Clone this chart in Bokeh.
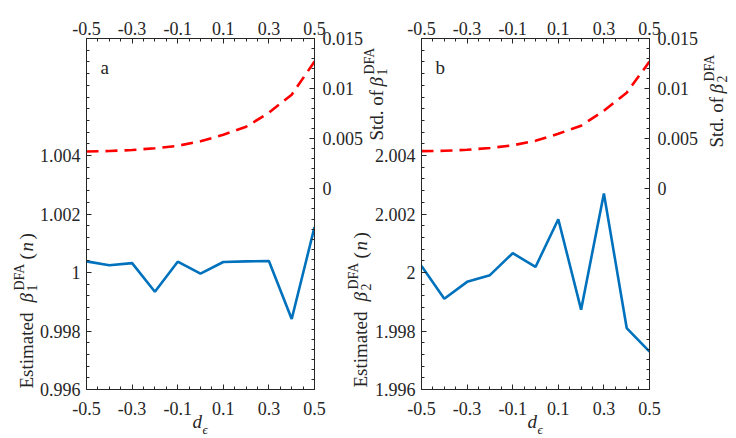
import math
from bokeh.plotting import figure
from bokeh.models import (Range1d, LinearAxis, FixedTicker, CustomJSTickFormatter)
from bokeh.layouts import row, column
from bokeh.core.properties import value
from bokeh.embed import file_html
from bokeh.resources import INLINE

# ---------------- data ----------------
d_eps = [-0.5, -0.4, -0.3, -0.2, -0.1, 0.0, 0.1, 0.2, 0.3, 0.4, 0.5]
beta1 = [1.00038, 1.00025, 1.00032, 0.99934, 1.00037, 0.99996, 1.00036, 1.00038, 1.00039, 0.99841, 1.00155]
beta2 = [2.00022, 1.99910, 1.99968, 1.99991, 2.00066, 2.00019, 2.00182, 1.99873, 2.00270, 1.99810, 1.99730]
std1 = [0.00373, 0.00378, 0.00388, 0.00405, 0.00430, 0.00475, 0.00540, 0.00620, 0.00760, 0.00940, 0.01270]
std2 = [0.00377, 0.00380, 0.00390, 0.00408, 0.00435, 0.00480, 0.00550, 0.00630, 0.00780, 0.00960, 0.01270]

x_ticks = [-0.5, -0.3, -0.1, 0.1, 0.3, 0.5]
std_ticks = [0, 0.005, 0.01, 0.015]
beta1_ticks = [0.996, 0.998, 1.0, 1.002, 1.004]
beta2_ticks = [1.996, 1.998, 2.0, 2.002, 2.004]

FONT = "Liberation Serif"
AX = "#262626"
W, H = 736, 438
FW, FH = 228, 351
FRAME_TOP = 38
FRAME_BOTTOM = FRAME_TOP + FH

fmt_code = """
var s = tick.toFixed(3);
if (s.indexOf('.') >= 0) { s = s.replace(/0+$/, ''); s = s.replace(/\\.$/, ''); }
if (s == '-0') s = '0';
return s;
"""


def minor(lo, hi, step):
    n = int(round((hi - lo) / step))
    return [lo + i * step for i in range(n + 1)]


def style_axis(ax, ticks, minors, standoff):
    ax.ticker = FixedTicker(ticks=ticks, minor_ticks=minors)
    ax.formatter = CustomJSTickFormatter(code=fmt_code)
    ax.major_label_text_font = FONT
    ax.major_label_text_font_size = "18px"
    ax.major_label_text_color = AX
    ax.axis_line_color = AX
    ax.major_tick_line_color = AX
    ax.minor_tick_line_color = AX
    ax.major_tick_in = 5
    ax.major_tick_out = 0
    ax.minor_tick_in = 3
    ax.minor_tick_out = 0
    ax.major_label_standoff = standoff


def make_panel(beta, std, yticks, ylo, yhi, left_border, right_border):
    p = figure(frame_width=FW, frame_height=FH, output_backend="svg", toolbar_location=None,
               x_range=Range1d(-0.5, 0.5), y_range=Range1d(ylo, yhi), title=None,
               min_border_left=left_border, min_border_right=right_border,
               min_border_top=FRAME_TOP, min_border_bottom=H - FRAME_BOTTOM,
               x_axis_location="below", y_axis_location="left")
    p.outline_line_color = None
    p.xgrid.visible = False
    p.ygrid.visible = False
    p.background_fill_color = "white"
    p.border_fill_color = "white"
    p.extra_y_ranges = {"std": Range1d(-0.02, 0.015)}

    xminor = minor(-0.5, 0.5, 0.05)
    style_axis(p.xaxis[0], x_ticks, xminor, 12)
    style_axis(p.yaxis[0], yticks, minor(ylo, yhi, 0.0004), 6)

    top = LinearAxis()
    style_axis(top, x_ticks, xminor, 4)
    p.add_layout(top, "above")

    right = LinearAxis(y_range_name="std")
    style_axis(right, std_ticks, minor(-0.02, 0.015, 0.001), 8)
    p.add_layout(right, "right")

    p.line(d_eps, std, y_range_name="std", color="#FF0000", line_width=2.6, line_dash="12 7")
    p.line(d_eps, beta, color="#0072BD", line_width=2.6)
    return p


pa = make_panel(beta1, std1, beta1_ticks, 0.996, 1.008, 86, 56)
pb = make_panel(beta2, std2, beta2_ticks, 1.996, 2.008, 51, 87)

# transparent overlay that carries the composed axis labels (page pixel coordinates)
ov = figure(width=W, height=H, x_range=Range1d(0, W), y_range=Range1d(0, H),
            output_backend="svg", toolbar_location=None, title=None,
            x_axis_type=None, y_axis_type=None, min_border=0)
ov.outline_line_color = None
ov.xgrid.visible = False
ov.ygrid.visible = False
ov.background_fill_alpha = 0
ov.border_fill_alpha = 0
ov.margin = (-H, 0, 0, 0)

K = 0.33  # empirical baseline correction (fraction of font size)


def add(txt, px, py, size, italic=False, angle=0.0):
    if angle == 0.0:
        py = py - K * size
    else:
        px = px - K * size
    ov.text(x=[px], y=[H - py], text=[txt], angle=angle,
            text_font=value(FONT), text_font_size=f"{size}px",
            text_font_style="italic" if italic else "normal",
            text_color=AX, text_align="left", text_baseline="alphabetic")


a90 = math.pi / 2
for fl, letter, sub, lx, ly0, rdx, ry0 in [(86, "a", "1", 32, 388, 68, 140),
                                          (421, "b", "2", 366, 387, 73, 147)]:
    fr = fl + FW
    add(letter, fl + 14, 73, 19)
    # left label: Estimated beta_sub^DFA(n)
    add("Estimated", lx, ly0, 19, angle=a90)
    add("β", lx, ly0 - 86, 19, italic=True, angle=a90)
    add(sub, lx + 4, ly0 - 97, 14, angle=a90)
    add("DFA", lx - 8, ly0 - 98, 14, angle=a90)
    add("(", lx, ly0 - 129, 19, angle=a90)
    add("n", lx, ly0 - 137, 19, italic=True, angle=a90)
    add(")", lx, ly0 - 149, 19, angle=a90)
    # right label: Std. of beta_sub^DFA
    rx = fr + rdx
    add("Std. of", rx, ry0, 19, angle=a90)
    add("β", rx, ry0 - 54, 19, italic=True, angle=a90)
    add(sub, rx + 4, ry0 - 65, 14, angle=a90)
    add("DFA", rx - 8, ry0 - 66, 14, angle=a90)
    # bottom label d_eps
    cx = fl + FW / 2
    add("d", cx - 8, 427, 19, italic=True)
    add("ϵ", cx + 2, 433, 13, italic=True)

layout = column(row(pa, pb), ov)
open("out.html", "w").write(file_html(layout, INLINE))
